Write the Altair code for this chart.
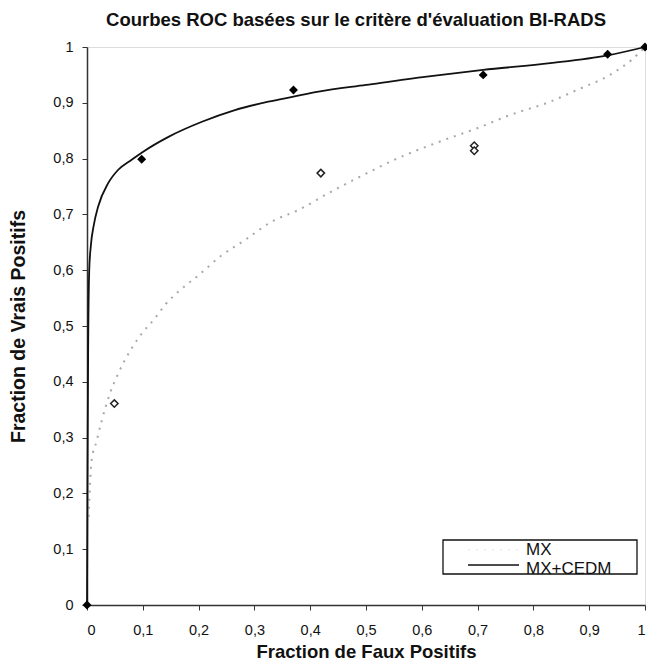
import altair as alt
import pandas as pd

# ---- data ----
series_names = ["MX", "MX+CEDM"]

# MX+CEDM observed points (filled diamonds)
cedm_pts_x = [0.0, 0.098, 0.37, 0.71, 0.933, 1.0]
cedm_pts_y = [0.0, 0.799, 0.923, 0.95, 0.987, 1.0]

# MX observed points (open diamonds)
mx_pts_x = [0.049, 0.419, 0.694, 0.694]
mx_pts_y = [0.361, 0.774, 0.823, 0.814]

# MX+CEDM fitted ROC curve (solid)
cedm_curve_x = [0.0, 0.001, 0.002, 0.004, 0.007, 0.012, 0.02, 0.038, 0.056, 0.08, 0.1,
                0.146, 0.206, 0.265, 0.325, 0.37, 0.415, 0.5, 0.609, 0.71, 0.83, 0.933, 1.0]
cedm_curve_y = [0.0, 0.25, 0.45, 0.60, 0.645, 0.68, 0.714, 0.756, 0.78, 0.798, 0.812,
                0.839, 0.866, 0.887, 0.902, 0.911, 0.92, 0.932, 0.947, 0.959, 0.971, 0.985, 1.0]

# MX fitted ROC curve (dotted)
mx_curve_x = [0.003, 0.008, 0.017, 0.026, 0.041, 0.056, 0.08, 0.101, 0.122, 0.14, 0.17,
              0.2, 0.238, 0.283, 0.331, 0.379, 0.438, 0.498, 0.549, 0.639, 0.698, 0.758,
              0.83, 0.878, 0.937, 0.976, 1.0]
mx_curve_y = [0.158, 0.257, 0.293, 0.329, 0.379, 0.415, 0.46, 0.49, 0.514, 0.538, 0.567,
              0.591, 0.624, 0.654, 0.687, 0.708, 0.741, 0.772, 0.797, 0.833, 0.854, 0.878,
              0.902, 0.923, 0.95, 0.977, 1.0]

tick_values = [0, 0.1, 0.2, 0.3, 0.4, 0.5, 0.6, 0.7, 0.8, 0.9, 1]

title_text = "Courbes ROC basées sur le critère d'évaluation BI-RADS"
x_title = "Fraction de Faux Positifs"
y_title = "Fraction de Vrais Positifs"

FONT = "Liberation Sans"
W = 558
H = 558

label_expr = ("datum.value == 0 ? '0' : datum.value == 1 ? '1' : "
              "replace(format(datum.value, '.1f'), '.', ',')")

xscale = alt.Scale(domain=[0, 1], nice=False, zero=False)
yscale = alt.Scale(domain=[0, 1], nice=False, zero=False)

xaxis = alt.Axis(values=tick_values, labelExpr=label_expr, title=x_title,
                 grid=False, tickSize=5, labelPadding=13, labelFontSize=14.5,
                 titleFontSize=18.5, titleFontWeight="bold", titleY=46,
                 titleBaseline="middle", domainColor="#333", domainWidth=1.5,
                 tickColor="#333", labelColor="#111", titleColor="#111",
                 labelFont=FONT, titleFont=FONT)
yaxis = alt.Axis(values=tick_values, labelExpr=label_expr, title=y_title,
                 grid=False, tickSize=5, labelPadding=9, labelFontSize=14.5,
                 titleFontSize=19.5, titleFontWeight="bold", titleX=-69,
                 titleY=H / 2, titleBaseline="middle", titleAngle=-90,
                 domainColor="#333", domainWidth=1.5,
                 tickColor="#333", labelColor="#111", titleColor="#111",
                 labelFont=FONT, titleFont=FONT)

df_cedm_curve = pd.DataFrame({"x": cedm_curve_x, "y": cedm_curve_y})
df_mx_curve = pd.DataFrame({"x": mx_curve_x, "y": mx_curve_y})
df_cedm_pts = pd.DataFrame({"x": cedm_pts_x, "y": cedm_pts_y})
df_mx_pts = pd.DataFrame({"x": mx_pts_x, "y": mx_pts_y})

base_enc = dict(
    x=alt.X("x:Q", scale=xscale, axis=xaxis),
    y=alt.Y("y:Q", scale=yscale, axis=yaxis),
)

mx_line = alt.Chart(df_mx_curve).mark_line(
    color="#a8a8a8", strokeWidth=2, strokeDash=[2, 6], interpolate="monotone"
).encode(**base_enc)

cedm_line = alt.Chart(df_cedm_curve).mark_line(
    color="#111", strokeWidth=1.8, interpolate="monotone"
).encode(**base_enc)

mx_points = alt.Chart(df_mx_pts).mark_point(
    shape="diamond", filled=False, color="#222", fill="white", fillOpacity=1,
    strokeWidth=1.5, size=55, opacity=1
).encode(x="x:Q", y="y:Q")

cedm_points = alt.Chart(df_cedm_pts).mark_point(
    shape="diamond", filled=True, color="#000", size=80, opacity=1
).encode(x="x:Q", y="y:Q")

# ---- legend box (drawn by hand, like the original) ----
one = pd.DataFrame({"a": [0]})
legend_box = alt.Chart(one).mark_rect(
    fill="white", stroke="#111", strokeWidth=1.3
).encode(x=alt.value(356), x2=alt.value(550), y=alt.value(493), y2=alt.value(527))

leg_mx_line = alt.Chart(one).mark_rule(
    color="#f0f0f0", strokeWidth=2, strokeDash=[2, 6]
).encode(x=alt.value(381), x2=alt.value(432), y=alt.value(503))

leg_cedm_line = alt.Chart(one).mark_rule(
    color="#111", strokeWidth=1.5
).encode(x=alt.value(381), x2=alt.value(432), y=alt.value(518))

leg_mx_text = alt.Chart(pd.DataFrame({"label": [series_names[0]]})).mark_text(
    align="left", baseline="alphabetic", font=FONT, fontSize=17, color="#111"
).encode(x=alt.value(439), y=alt.value(508), text="label:N")

leg_cedm_text = alt.Chart(pd.DataFrame({"label": [series_names[1]]})).mark_text(
    align="left", baseline="alphabetic", font=FONT, fontSize=17, color="#111"
).encode(x=alt.value(439), y=alt.value(527), text="label:N")

chart = alt.layer(
    mx_line, cedm_line, mx_points, cedm_points,
    legend_box, leg_mx_line, leg_cedm_line, leg_mx_text, leg_cedm_text
).properties(
    width=W, height=H,
    title=alt.TitleParams(title_text, font=FONT, fontSize=18.5, fontWeight="bold",
                          color="#111", anchor="middle", offset=10, dx=-10),
    autosize=alt.AutoSizeParams(type="none"),
    padding={"left": 79, "top": 39, "right": 2, "bottom": 56},
).configure_view(
    stroke="#b0b0b0", strokeWidth=1.5
).configure(background="white")

chart.save("out.html", embed_options={"renderer": "svg", "actions": False})
